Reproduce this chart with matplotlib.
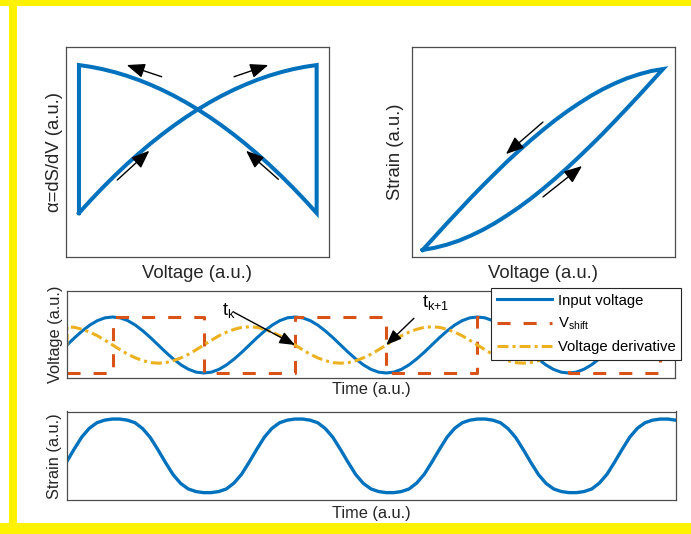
import numpy as np
import matplotlib
matplotlib.use("Agg")
import matplotlib.pyplot as plt
from matplotlib.patches import Rectangle

plt.rcParams['font.family'] = ['Liberation Sans', 'DejaVu Sans']
plt.rcParams['mathtext.fontset'] = 'custom'
plt.rcParams['mathtext.rm'] = 'Liberation Sans'
plt.rcParams['mathtext.it'] = 'Liberation Sans:italic'
plt.rcParams['lines.scale_dashes'] = False

BLUE = '#0072BD'
RED = '#D95319'
GOLD = '#EDB120'
TEXT = '#262626'
FRAME = '#4d4d4d'
BORDER = '#FFF200'

# ---------------- loop data (voltage sweep, normalised) ----------------
sweep_voltage = np.linspace(-1.0, 1.0, 21)
alpha_rising = [0.000, 0.088, 0.172, 0.252, 0.328, 0.400, 0.468, 0.532, 0.592, 0.648, 0.700,
                0.748, 0.792, 0.832, 0.868, 0.900, 0.928, 0.952, 0.972, 0.988, 1.000]
alpha_falling = [1.000, 0.988, 0.972, 0.952, 0.928, 0.900, 0.868, 0.832, 0.792, 0.748, 0.700,
                 0.648, 0.592, 0.532, 0.468, 0.400, 0.328, 0.252, 0.172, 0.088, 0.000]
strain_rising = [0.000, 0.012, 0.029, 0.051, 0.079, 0.111, 0.148, 0.190, 0.235, 0.284, 0.337,
                 0.393, 0.452, 0.514, 0.578, 0.644, 0.713, 0.783, 0.854, 0.927, 1.000]
strain_falling = [0.000, 0.073, 0.146, 0.217, 0.288, 0.356, 0.422, 0.487, 0.548, 0.607, 0.663,
                  0.716, 0.765, 0.810, 0.852, 0.889, 0.921, 0.949, 0.971, 0.989, 1.000]

loop_arrows = [((-0.304, 0.921), (-0.598, 1.000)),
               ((0.305, 0.921), (0.593, 1.000)),
               ((-0.678, 0.223), (-0.408, 0.421)),
               ((0.678, 0.228), (0.406, 0.421))]
lens_arrows = [((0.001, 0.707), (-0.307, 0.530)),
               ((0.001, 0.293), (0.326, 0.464))]

# ---------------- time traces (time in drive periods) ----------------
time = np.arange(81) / 24.0
input_voltage = [
    0.00, 0.26, 0.50, 0.71, 0.87, 0.97, 1.00, 0.97, 0.87, 0.71, 0.50, 0.26,
    0.00, -0.26, -0.50, -0.71, -0.87, -0.97, -1.00, -0.97, -0.87, -0.71, -0.50, -0.26,
    0.00, 0.26, 0.50, 0.71, 0.87, 0.97, 1.00, 0.97, 0.87, 0.71, 0.50, 0.26,
    0.00, -0.26, -0.50, -0.71, -0.87, -0.97, -1.00, -0.97, -0.87, -0.71, -0.50, -0.26,
    0.00, 0.26, 0.50, 0.71, 0.87, 0.97, 1.00, 0.97, 0.87, 0.71, 0.50, 0.26,
    0.00, -0.26, -0.50, -0.71, -0.87, -0.97, -1.00, -0.97, -0.87, -0.71, -0.50, -0.26,
    0.00, 0.26, 0.50, 0.71, 0.87, 0.97, 1.00, 0.97, 0.87]

derivative_time = np.concatenate([[0.0], time])
voltage_derivative = [0.00,
    0.65, 0.63, 0.56, 0.46, 0.33, 0.17, 0.00, -0.17, -0.33, -0.46, -0.56, -0.63,
    -0.65, -0.63, -0.56, -0.46, -0.33, -0.17, 0.00, 0.17, 0.33, 0.46, 0.56, 0.63,
    0.65, 0.63, 0.56, 0.46, 0.33, 0.17, 0.00, -0.17, -0.33, -0.46, -0.56, -0.63,
    -0.65, -0.63, -0.56, -0.46, -0.33, -0.17, 0.00, 0.17, 0.33, 0.46, 0.56, 0.63,
    0.65, 0.63, 0.56, 0.46, 0.33, 0.17, 0.00, -0.17, -0.33, -0.46, -0.56, -0.63,
    -0.65, -0.63, -0.56, -0.46, -0.33, -0.17, 0.00, 0.17, 0.33, 0.46, 0.56, 0.63,
    0.65, 0.63, 0.56, 0.46, 0.33, 0.17, 0.00, -0.17, -0.33]

shift_time = [0.0, 0.25, 0.75, 1.25, 1.75, 2.25, 2.75, 3.25, 3.3333]
shift_level = [-1, 1, -1, 1, -1, 1, -1, 1, 1]

strain_trace = [
    -0.17, 0.18, 0.51, 0.75, 0.90, 0.97, 1.00, 1.00, 0.97, 0.90, 0.74, 0.50,
    0.17, -0.18, -0.51, -0.75, -0.90, -0.97, -1.00, -1.00, -0.97, -0.90, -0.74, -0.50,
    -0.17, 0.18, 0.51, 0.75, 0.90, 0.97, 1.00, 1.00, 0.97, 0.90, 0.74, 0.50,
    0.17, -0.18, -0.51, -0.75, -0.90, -0.97, -1.00, -1.00, -0.97, -0.90, -0.74, -0.50,
    -0.17, 0.18, 0.51, 0.75, 0.90, 0.97, 1.00, 1.00, 0.97, 0.90, 0.74, 0.50,
    0.17, -0.18, -0.51, -0.75, -0.90, -0.97, -1.00, -1.00, -0.97, -0.90, -0.74, -0.50,
    -0.17, 0.18, 0.51, 0.75, 0.90, 0.97, 1.00, 1.00, 0.97]

switch_marks = [(r'$\mathregular{t_k}$', (0.848, 1.07), (0.915, 1.17), (1.25, 0.0)),
                (r'$\mathregular{t_{k{+}1}}$', (1.945, 1.357), (1.902, 0.954), (1.75, 0.0))]

W, H = 691, 534
fig = plt.figure(figsize=(W / 100, H / 100), dpi=100)


def px_axes(x0, y0, x1, y1):
    return fig.add_axes([x0 / W, 1 - y1 / H, (x1 - x0) / W, (y1 - y0) / H])


def frame(ax):
    ax.set_xticks([])
    ax.set_yticks([])
    for s in ax.spines.values():
        s.set_color(FRAME)
        s.set_linewidth(0.9)


def arrow(ax, tail, head, scale):
    ax.annotate('', xy=head, xytext=tail,
                arrowprops=dict(arrowstyle='-|>,head_length=0.55,head_width=0.22',
                                lw=1.0, color='k', mutation_scale=scale,
                                shrinkA=0, shrinkB=0))


# ---- alpha loop ----
ax1 = px_axes(66, 47, 329, 257)
frame(ax1)
xs = np.concatenate([sweep_voltage, sweep_voltage[::-1], [sweep_voltage[0]]])
ys = np.concatenate([alpha_rising, np.asarray(alpha_falling)[::-1], [alpha_rising[0]]])
ax1.plot(xs, ys, color=BLUE, lw=2.9, solid_joinstyle='miter')
for tail, head in loop_arrows:
    arrow(ax1, tail, head, 20)
ax1.set_xlim(-1.109, 1.104)
ax1.set_ylim(-0.297, 1.122)
ax1.set_xlabel('Voltage (a.u.)', fontsize=13.3, color=TEXT, labelpad=5.5)
ax1.set_ylabel('α=dS/dV (a.u.)', fontsize=13.3, color=TEXT, labelpad=2)

# ---- strain loop ----
ax2 = px_axes(412, 47, 675, 257)
frame(ax2)
xs = np.concatenate([sweep_voltage, sweep_voltage[::-1]])
ys = np.concatenate([strain_rising, np.asarray(strain_falling)[::-1]])
ax2.plot(xs, ys, color=BLUE, lw=2.9, solid_joinstyle='miter')
for tail, head in lens_arrows:
    arrow(ax2, tail, head, 20)
ax2.set_xlim(-1.089, 1.10)
ax2.set_ylim(-0.039, 1.122)
ax2.set_xlabel('Voltage (a.u.)', fontsize=13.3, color=TEXT, labelpad=5.5)
ax2.set_ylabel('Strain (a.u.)', fontsize=13.3, color=TEXT, labelpad=5.5)

# ---- voltage traces ----
ax3 = px_axes(67, 291, 675, 378)
frame(ax3)
l1, = ax3.plot(time, input_voltage, color=BLUE, lw=2.2)
l2, = ax3.plot(shift_time, shift_level, color=RED, lw=2.2, drawstyle='steps-post',
               linestyle=(0, (9.4, 9.4)))
l3, = ax3.plot(derivative_time, voltage_derivative, color=GOLD, lw=2.2,
               linestyle=(0, (7.9, 2.9, 2.2, 2.9)))
for label, tpos, tail, head in switch_marks:
    ax3.text(tpos[0], tpos[1], label, fontsize=13, color='k', ha='left', va='baseline')
    arrow(ax3, tail, head, 17)
ax3.set_xlim(0, 3.3333)
ax3.set_ylim(-1.179, 1.929)
ax3.set_xlabel('Time (a.u.)', fontsize=11.8, color=TEXT, labelpad=3)
ax3.set_ylabel('Voltage (a.u.)', fontsize=11.8, color=TEXT, labelpad=3)
leg = ax3.legend([l1, l2, l3], ['Input voltage', r'$\mathregular{V_{shift}}$', 'Voltage derivative'],
                 loc='upper right', bbox_to_anchor=(681 / W, 1 - 288 / H),
                 bbox_transform=fig.transFigure, borderaxespad=0, fontsize=10.7,
                 handlelength=3.7, handletextpad=0.4, labelspacing=0.55, borderpad=0.38,
                 fancybox=False, framealpha=1, edgecolor='#262626')
leg.get_frame().set_linewidth(0.8)

# ---- strain trace ----
ax4 = px_axes(66.5, 411.5, 675.5, 500)
frame(ax4)
ax4.plot(time, strain_trace, color=BLUE, lw=2.4)
ax4.set_xlim(0, 3.3333)
ax4.set_ylim(-1.2, 1.205)
ax4.set_xlabel('Time (a.u.)', fontsize=11.8, color=TEXT, labelpad=4.5)
ax4.set_ylabel('Strain (a.u.)', fontsize=11.8, color=TEXT, labelpad=3)

# ---- yellow page border ----
for x0, y0, w, h in [(0, H - 6, W, 6), (8.8, 0, 7.9, H), (0, 0, W, 11)]:
    fig.add_artist(Rectangle((x0 / W, y0 / H), w / W, h / H, transform=fig.transFigure,
                             facecolor=BORDER, edgecolor='none', zorder=-5))

fig.savefig('out.png', dpi=100)
